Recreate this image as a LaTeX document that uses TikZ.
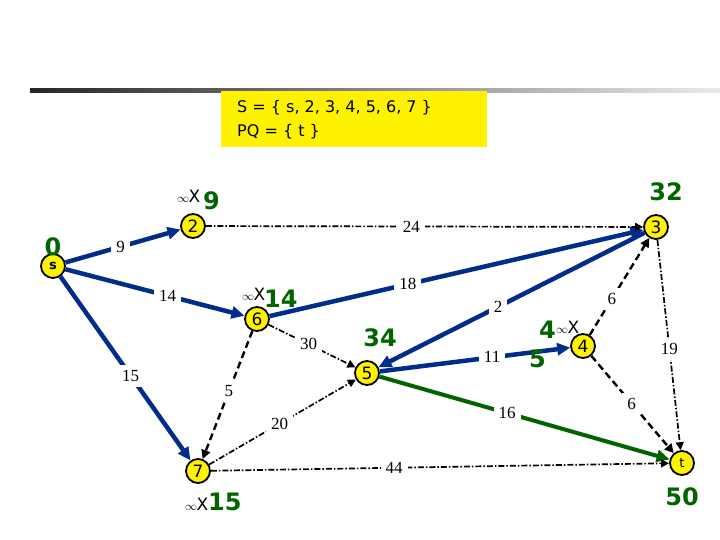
\documentclass[tikz,border=0pt]{standalone}
\usepackage{fontspec}
\setmainfont{Liberation Serif}
\setsansfont{DejaVu Sans}
\usetikzlibrary{arrows.meta}

\definecolor{treeblue}{RGB}{0,45,140}
\definecolor{distgreen}{RGB}{0,100,0}
\newcommand{\infx}{{\fontsize{12}{12}\selectfont$\infty$}\kern-0.5pt X}

\tikzset{
    vertex/.style={circle, draw=black, line width=1.8pt, fill=yellow, minimum size=24pt, inner sep=0pt, font=\sffamily\fontsize{17}{17}\selectfont},
    wt/.style={fill=white, text=black, inner sep=5pt, font=\fontsize{17}{17}\selectfont},
    dist/.style={text=distgreen, inner sep=0pt, font=\sffamily\bfseries\fontsize{24}{24}\selectfont},
    infmark/.style={inner sep=0pt, font=\sffamily\fontsize{17}{17}\selectfont},
    tree/.style={treeblue, line width=4.5pt, -{Triangle[length=13pt,width=12pt]}},
    best/.style={distgreen, line width=4pt, -{Triangle[length=13pt,width=12pt]}},
    dashdot/.style={black, line width=1.7pt, dash pattern=on 6pt off 2pt on 1.5pt off 2pt, -{Triangle[length=8pt,width=8pt]}},
    dashline/.style={black, line width=2.4pt, dash pattern=on 7pt off 4pt, -{Triangle[length=9pt,width=9pt]}}
}

\begin{document}
\begin{tikzpicture}[x=1pt,y=-1pt]
    \useasboundingbox (0,0) rectangle (720,540);
    % Top rule and the set box.
        \shade[left color=black!85, right color=black!8] (30,89) rectangle (720,93);
        \fill[yellow] (221,91) rectangle (487,147);
        \node[anchor=base west, inner sep=0pt, font=\sffamily\fontsize{16}{16}\selectfont] (setS) at (237,113) {S = \{ s, 2, 3, 4, 5, 6, 7 \}};
        \node[anchor=base west, inner sep=0pt, font=\sffamily\fontsize{16}{16}\selectfont] (setPQ) at (237,137) {PQ = \{ t \}};
    % Vertices.
        \node[vertex] (s) at (53,266) {\bfseries\fontsize{13}{13}\selectfont s};
        \node[vertex] (v2) at (193,226) {2};
        \node[vertex] (v3) at (656,227) {3};
        \node[vertex] (v4) at (583,346) {4};
        \node[vertex] (v5) at (367,373) {5};
        \node[vertex] (v6) at (257,319) {6};
        \node[vertex] (v7) at (198,471) {7};
        \node[vertex] (t) at (682,463) {\fontsize{13}{13}\selectfont t};
    % Edges of the tree.
        \draw[tree] (s) -- node[wt, pos=0.48] {9} (v2);
        \draw[tree] (s) -- node[wt, pos=0.57] {14} (v6);
        \draw[tree] (s) -- node[wt, pos=0.54] {15} (v7);
        \draw[tree] (v6) -- node[wt, pos=0.37] {18} (v3);
        \draw[tree] (v3) -- node[wt, pos=0.55] {2} (v5);
        \draw[tree] (v5) -- node[wt, pos=0.59] {11} (v4);
        \draw[best] (v5) -- node[wt, pos=0.44] {16} (t);
    % Other edges.
        \draw[dashdot] (v2) -- node[wt, pos=0.47] {24} (v3);
        \draw[dashdot] (v6) -- node[wt, pos=0.46] {30} (v5);
        \draw[dashline] (v6) -- node[wt, pos=0.47] {5} (v7);
        \draw[dashdot] (v7) -- node[wt, pos=0.48] {20} (v5);
        \draw[dashdot] (v7) -- node[wt, pos=0.40] {44} (t);
        \draw[dashline] (v4) -- node[wt, pos=0.37] {6} (v3);
        \draw[dashline] (v4) -- node[wt, pos=0.49] {6} (t);
        \draw[dashdot] (v3) -- node[wt, pos=0.52] {19} (t);
    % Below nodes are the distances.
        \node[dist] (ds) at (53,247) {0};
        \node[infmark, anchor=base west] (x2) at (177,203) {\infx};
        \node[dist, anchor=base west] (d2) at (203,210) {9};
        \node[dist] (d3) at (666,192) {32};
        \node[infmark, anchor=base west] (x6) at (242,300) {\infx};
        \node[dist, anchor=base west] (d6) at (264,307) {14};
        \node[dist] (d5) at (380,338) {34};
        \node[dist, anchor=base west] (d4a) at (539,338) {4};
        \node[infmark, anchor=base west] (x4) at (556,333) {\infx};
        \node[dist, anchor=base west] (d4b) at (529,367) {5};
        \node[infmark, anchor=base west] (x7) at (185,510) {\infx};
        \node[dist, anchor=base west] (d7) at (208,510) {15};
        \node[dist] (dt) at (682,497) {50};
\end{tikzpicture}
\end{document}
